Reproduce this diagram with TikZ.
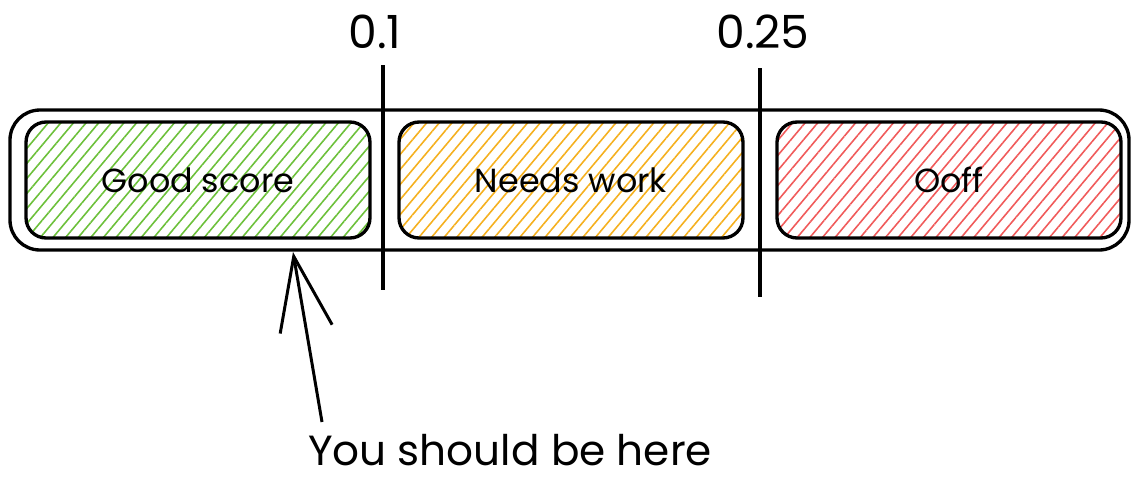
\documentclass[tikz,border=0pt]{standalone}
\usepackage{fontspec}
\setmainfont{Poppins}
\usetikzlibrary{positioning,calc,patterns.meta,arrows.meta}
\definecolor{okgreen}{HTML}{6CC03A}
\definecolor{warnyellow}{HTML}{F5B01E}
\definecolor{badred}{HTML}{F05A5A}
\tikzset{zone/.style={draw=black,line width=1.9pt,rounded corners=4mm,minimum width=6.88cm,minimum height=2.32cm,font=\fontsize{19}{22}\selectfont,pattern={Lines[angle=50,distance=5.5pt,line width=0.9pt]},pattern color=#1},
	cut/.style={line width=1.9pt},
	mark label/.style={font=\fontsize{26}{30}\selectfont}}

\begin{document}
\begin{tikzpicture}[x=0.02cm,y=-0.02cm]
	  \useasboundingbox (0,0) rectangle (1132,481);
	  % outer bar
	  \draw[line width=1.9pt,rounded corners=6mm] (10,110) rectangle (1129,250);
	  \node[zone=okgreen] (good) at (198,180) {Good score};
	  \node[zone=warnyellow] (needs) at (571,180) {Needs work};
	  \node[zone=badred] (off) at (949,180) {Ooff};
	      
	  % thresholds
	  \path (383,65) coordinate (A1)  (383,290) coordinate (A2)
	        (760,68) coordinate (B1)  (760,297) coordinate (B2);
	  \draw[cut] (A1)--(A2) (B1)--(B2);
	  \foreach \nm/\x/\txt in {lblA/375/0.1,lblB/763/0.25}{
	       \node[mark label] (\nm) at (\x,32) {\txt};
	  }
	      
	  % pointer
	  \node[font=\fontsize{24}{28}\selectfont] (here) at (510,450) {You should be here};
	  \path (322,422) coordinate (tail)  (293,252) coordinate (tip);
	  \draw[line width=1.7pt,-{Straight Barb[length=42pt,width=30pt,line width=1.7pt]}] (tail)--(tip);
\end{tikzpicture}
\end{document}
